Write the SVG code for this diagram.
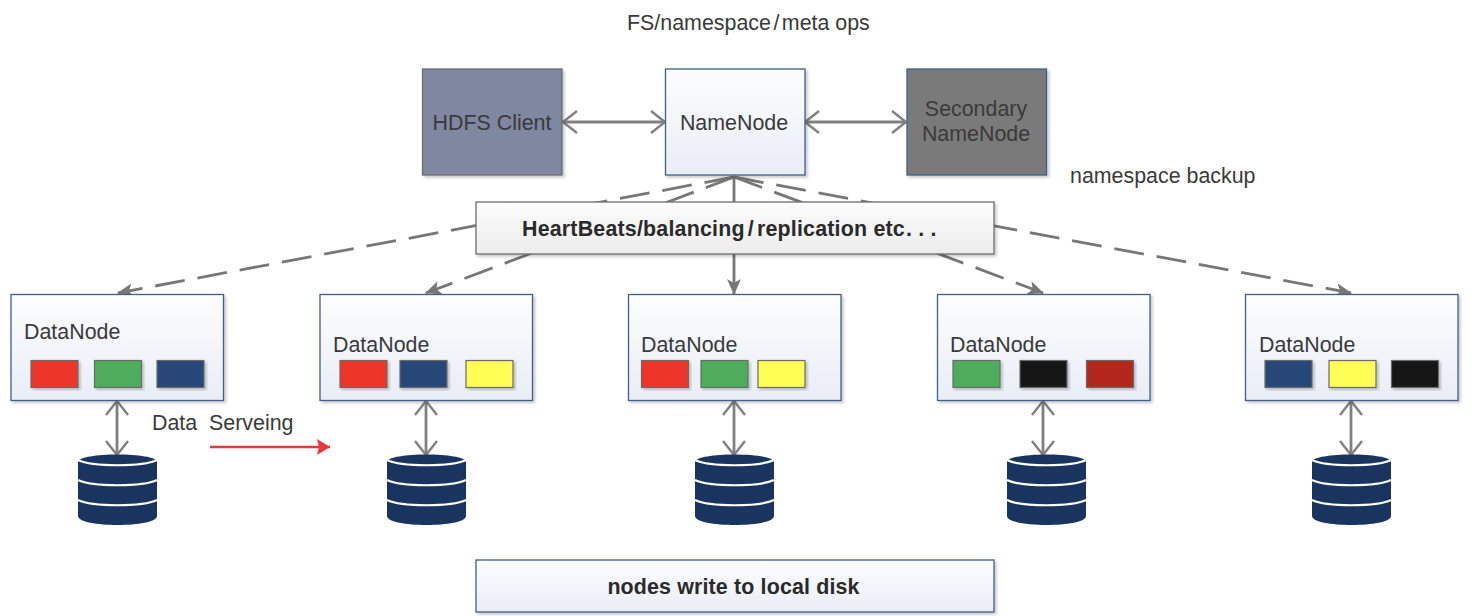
<svg xmlns="http://www.w3.org/2000/svg" xmlns:xlink="http://www.w3.org/1999/xlink" width="1484" height="616" viewBox="0 0 1484 616">
<style>
text{font-family:"Liberation Sans",Arial,sans-serif;font-size:21.4px;fill:#3a3a3a}
.c{text-anchor:middle}
.b{font-weight:bold;fill:#2a2a2a}
.box{fill:url(#g);stroke:#3f5f8f;stroke-width:1.3;filter:url(#s)}
.gbox{fill:url(#g2);stroke:#6e6e6e;stroke-width:1.3;filter:url(#s)}
.sq{stroke:#6a6a6a;stroke-width:1.2;filter:url(#s)}
.r{fill:#ee3529}.gr{fill:#4fac5c}.bl{fill:#284677}.y{fill:#fefe55}.k{fill:#161616}.dr{fill:#b3271d}
.d{stroke:#777;stroke-width:2.8;fill:none;stroke-dasharray:30 13;marker-end:url(#fa)}
.s{stroke:#777;stroke-width:2.8;fill:none;marker-end:url(#fa)}
.t{stroke:#808080;stroke-width:2.8;fill:none;marker-start:url(#oas);marker-end:url(#oa)}
</style>
<defs>
<linearGradient id="g" x1="0" y1="0" x2="0" y2="1"><stop offset="0" stop-color="#fcfdfe"/><stop offset="1" stop-color="#e9edf5"/></linearGradient>
<linearGradient id="g2" x1="0" y1="0" x2="0" y2="1"><stop offset="0" stop-color="#fcfcfc"/><stop offset="1" stop-color="#ececec"/></linearGradient>
<filter id="s" x="-5%" y="-5%" width="112%" height="115%"><feDropShadow dx="2" dy="2" stdDeviation="1.500" flood-color="#000" flood-opacity=".22"/></filter>
<marker id="fa" viewBox="0 0 16 14" refX="15" refY="7" markerUnits="userSpaceOnUse" markerWidth="16" markerHeight="14" orient="auto"><path d="M0 0L16 7L0 14L4 7Z" fill="#777"/></marker>
<marker id="oa" viewBox="0 0 16 26" refX="15" refY="13" markerUnits="userSpaceOnUse" markerWidth="16" markerHeight="26" orient="auto"><path d="M1 2L15 13L1 24" fill="none" stroke="#808080" stroke-width="2.4"/></marker>
<marker id="oas" viewBox="0 0 16 26" refX="1" refY="13" markerUnits="userSpaceOnUse" markerWidth="16" markerHeight="26" orient="auto"><path d="M15 2L1 13L15 24" fill="none" stroke="#808080" stroke-width="2.4"/></marker>
<marker id="ra" viewBox="0 0 13 16" refX="13" refY="8" markerUnits="userSpaceOnUse" markerWidth="13" markerHeight="16" orient="auto"><path d="M0 0L13 8L0 16L2 8Z" fill="#e8393a"/></marker>
<g id="cyl">
<path d="M-39.500 7C-39.500 -3 39.500 -3 39.500 7V61C39.500 73 -39.500 73 -39.500 61Z" fill="#1a3460"/>
<path d="M-39.500 5C-25 12 25 12 39.500 5M-39.500 25C-25 32 25 32 39.500 25M-39.500 45C-25 52 25 52 39.500 45" fill="none" stroke="#fff" stroke-width="2.200"/>
</g>
</defs>
<rect width="1484" height="616" fill="#fff"/>
<g id="connectors">
<path class="d" d="M734 177L118 293"/>
<path class="d" d="M734 177L426 293"/>
<path class="s" d="M734 177V294"/>
<path class="d" d="M734 177L1043 293"/>
<path class="d" d="M734 177L1351 293"/>
<path class="t" d="M563 122H665"/>
<path class="t" d="M805 122H906"/>
<path class="t" d="M117 401V455"/>
<path class="t" d="M426 401V455"/>
<path class="t" d="M734 401V455"/>
<path class="t" d="M1043 401V455"/>
<path class="t" d="M1351 401V455"/>
<path d="M210 447H330" fill="none" stroke="#e8393a" stroke-width="2.400" marker-end="url(#ra)"/>
</g>
<text id="label-ops" x="627" y="30">FS/namespace<tspan dx="2.500">/</tspan><tspan dx="2.500">meta ops</tspan></text>
<text id="label-backup" x="1070" y="183">namespace backup</text>
<g id="hdfs-client"><rect class="gbox" x="422.500" y="69" width="139.500" height="106" style="fill:#7f87a1"/><text class="c" x="492" y="130">HDFS Client</text></g>
<g id="namenode"><rect class="box" x="665.500" y="69" width="139.500" height="106"/><text class="c" x="734" y="130">NameNode</text></g>
<g id="secondary-namenode"><rect class="box" x="907" y="69" width="139.500" height="106" style="fill:#7a7a7a"/><text class="c" x="976" y="116">Secondary</text><text class="c" x="976" y="141">NameNode</text></g>
<g id="heartbeats"><rect class="gbox" x="476" y="202" width="518" height="52"/><text class="b" x="522" y="236" letter-spacing=".2">HeartBeats/balancing<tspan dx="3">/</tspan><tspan dx="3">replication etc</tspan><tspan dx="1">. . .</tspan></text></g>
<g id="datanode-1"><rect class="box" x="11" y="294.500" width="212.500" height="106"/><text x="24" y="339">DataNode</text>
<rect class="sq r" x="31" y="360.500" width="47" height="27"/><rect class="sq gr" x="94.500" y="360.500" width="47" height="27"/><rect class="sq bl" x="157" y="360.500" width="47" height="27"/></g>
<g id="datanode-2"><rect class="box" x="320" y="294.500" width="212.500" height="106"/><text x="333" y="352">DataNode</text>
<rect class="sq r" x="340" y="360.500" width="47" height="27"/><rect class="sq bl" x="400" y="360.500" width="47" height="27"/><rect class="sq y" x="466" y="360.500" width="47" height="27"/></g>
<g id="datanode-3"><rect class="box" x="628.500" y="294.500" width="212.500" height="106"/><text x="641" y="352">DataNode</text>
<rect class="sq r" x="641.500" y="360.500" width="47" height="27"/><rect class="sq gr" x="701" y="360.500" width="47" height="27"/><rect class="sq y" x="758" y="360.500" width="47" height="27"/></g>
<g id="datanode-4"><rect class="box" x="937.500" y="294.500" width="212.500" height="106"/><text x="950" y="352">DataNode</text>
<rect class="sq gr" x="953" y="360.500" width="47" height="27"/><rect class="sq k" x="1020" y="360.500" width="47" height="27"/><rect class="sq dr" x="1086.500" y="360.500" width="47" height="27"/></g>
<g id="datanode-5"><rect class="box" x="1245.500" y="294.500" width="212.500" height="106"/><text x="1259" y="352">DataNode</text>
<rect class="sq bl" x="1265" y="360.500" width="47" height="27"/><rect class="sq y" x="1329" y="360.500" width="47" height="27"/><rect class="sq k" x="1391.500" y="360.500" width="47" height="27"/></g>
<g id="disk-1"><use xlink:href="#cyl" href="#cyl" x="117.500" y="455"/></g>
<g id="disk-2"><use xlink:href="#cyl" href="#cyl" x="426.500" y="455"/></g>
<g id="disk-3"><use xlink:href="#cyl" href="#cyl" x="734.500" y="455"/></g>
<g id="disk-4"><use xlink:href="#cyl" href="#cyl" x="1046.500" y="455"/></g>
<g id="disk-5"><use xlink:href="#cyl" href="#cyl" x="1351.500" y="455"/></g>
<text id="label-serving" x="152" y="430" xml:space="preserve">Data  Serveing</text>
<g id="local-disk"><rect class="box" x="476" y="560" width="518" height="52"/><text class="c b" x="733.500" y="594" letter-spacing=".15">nodes write to local disk</text></g>
</svg>
